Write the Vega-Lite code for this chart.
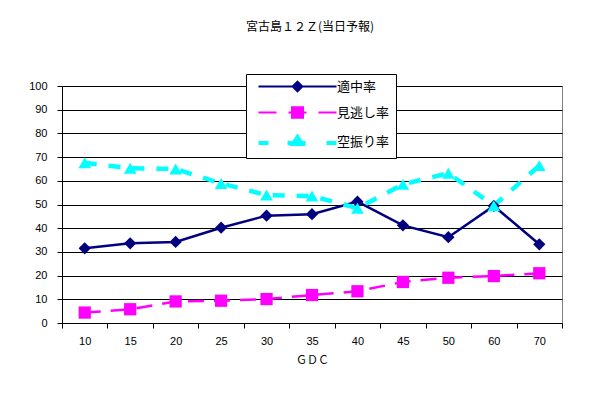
{
  "$schema": "https://vega.github.io/schema/vega-lite/v6.json",
  "autosize": "none",
  "width": 500,
  "height": 237,
  "padding": {"left": 62, "top": 86, "right": 33, "bottom": 73},
  "background": "white",
  "title": {
    "text": "宮古島１２Ｚ(当日予報)",
    "font": "Noto Sans CJK JP",
    "fontSize": 12,
    "fontWeight": "normal",
    "color": "black",
    "anchor": "middle",
    "frame": "group",
    "dx": -2,
    "offset": 40
  },
  "config": {
    "view": {"stroke": "#808080", "strokeWidth": 1},
    "axis": {
      "labelFont": "Liberation Sans",
      "labelFontSize": 11,
      "labelColor": "black",
      "titleFont": "Noto Sans CJK JP",
      "titleFontSize": 11,
      "titleFontWeight": "normal",
      "titleColor": "black",
      "domainColor": "black",
      "tickColor": "black",
      "gridColor": "black",
      "gridOpacity": 1
    }
  },
  "data": {
    "values": [
      {"gdc": "10", "series": "適中率", "value": 31.5},
      {"gdc": "15", "series": "適中率", "value": 33.6},
      {"gdc": "20", "series": "適中率", "value": 34.2},
      {"gdc": "25", "series": "適中率", "value": 40.2},
      {"gdc": "30", "series": "適中率", "value": 45.3},
      {"gdc": "35", "series": "適中率", "value": 45.9},
      {"gdc": "40", "series": "適中率", "value": 51.2},
      {"gdc": "45", "series": "適中率", "value": 41.2},
      {"gdc": "50", "series": "適中率", "value": 36.2},
      {"gdc": "60", "series": "適中率", "value": 49.4},
      {"gdc": "70", "series": "適中率", "value": 33.2},
      {"gdc": "10", "series": "見逃し率", "value": 4.4},
      {"gdc": "15", "series": "見逃し率", "value": 5.8},
      {"gdc": "20", "series": "見逃し率", "value": 9.1},
      {"gdc": "25", "series": "見逃し率", "value": 9.4},
      {"gdc": "30", "series": "見逃し率", "value": 10.1},
      {"gdc": "35", "series": "見逃し率", "value": 11.8},
      {"gdc": "40", "series": "見逃し率", "value": 13.4},
      {"gdc": "45", "series": "見逃し率", "value": 17.3},
      {"gdc": "50", "series": "見逃し率", "value": 19.1},
      {"gdc": "60", "series": "見逃し率", "value": 19.8},
      {"gdc": "70", "series": "見逃し率", "value": 21.0},
      {"gdc": "10", "series": "空振り率", "value": 67.6},
      {"gdc": "15", "series": "空振り率", "value": 65.3},
      {"gdc": "20", "series": "空振り率", "value": 65.0},
      {"gdc": "25", "series": "空振り率", "value": 58.9},
      {"gdc": "30", "series": "空振り率", "value": 54.0},
      {"gdc": "35", "series": "空振り率", "value": 53.6},
      {"gdc": "40", "series": "空振り率", "value": 48.4},
      {"gdc": "45", "series": "空振り率", "value": 58.5},
      {"gdc": "50", "series": "空振り率", "value": 63.2},
      {"gdc": "60", "series": "空振り率", "value": 49.5},
      {"gdc": "70", "series": "空振り率", "value": 66.4}
    ]
  },
  "encoding": {
    "x": {
      "field": "gdc",
      "type": "ordinal",
      "sort": ["10", "15", "20", "25", "30", "35", "40", "45", "50", "60", "70"],
      "scale": {"type": "band", "paddingInner": 0, "paddingOuter": 0},
      "axis": {
        "title": "ＧＤＣ",
        "labelAngle": 0,
        "tickBand": "extent",
        "tickSize": 5,
        "labelPadding": 7,
        "titlePadding": 8,
        "grid": false
      }
    },
    "y": {
      "field": "value",
      "type": "quantitative",
      "scale": {"domain": [0, 100], "nice": false},
      "axis": {
        "title": null,
        "values": [0, 10, 20, 30, 40, 50, 60, 70, 80, 90, 100],
        "tickSize": 5,
        "labelPadding": 10,
        "grid": true
      }
    },
    "color": {
      "field": "series",
      "type": "nominal",
      "scale": {
        "domain": ["適中率", "見逃し率", "空振り率"],
        "range": ["#000080", "#FF00FF", "#00FFFF"]
      },
      "legend": {
        "title": null,
        "orient": "none",
        "legendX": 184,
        "legendY": -12,
        "fillColor": "white",
        "strokeColor": "black",
        "padding": 6,
        "rowPadding": 7,
        "labelOffset": 72,
        "labelFont": "Noto Sans CJK JP",
        "labelFontSize": 13,
        "labelColor": "black",
        "symbolSize": 256,
        "encode": {
          "symbols": {
            "update": {
              "shape": {"signal": "datum.value === '適中率' ? 'M0,0H9.75M4.275,0L4.875,-0.6L5.475,0L4.875,0.6Z' : datum.value === '見逃し率' ? 'M0,0H2.25M3.75,0H6M7.5,0H9.75M4.185,-0.65H5.565V0.65H4.185Z' : 'M0,0.2H1.25M3.625,0.2H5.875M8.5,0.2H9.75M4.875,-0.55L5.45,0.3H4.3Z'"},
              "size": {"value": 256},
              "fill": {"scale": "color", "field": "value"},
              "stroke": {"scale": "color", "field": "value"},
              "strokeWidth": {"signal": "datum.value === '空振り率' ? 4 : 2"},
              "opacity": {"value": 1},
              "fillOpacity": {"value": 1},
              "strokeOpacity": {"value": 1}
            }
          }
        }
      }
    }
  },
  "layer": [
    {
      "transform": [{"filter": "datum.series === '適中率'"}],
      "mark": {"type": "line", "strokeWidth": 2.5}
    },
    {
      "transform": [{"filter": "datum.series === '見逃し率'"}],
      "mark": {"type": "line", "strokeWidth": 2.5, "strokeDash": [16, 10]}
    },
    {
      "transform": [{"filter": "datum.series === '空振り率'"}],
      "mark": {"type": "line", "strokeWidth": 4.5, "strokeDash": [12, 12]}
    },
    {
      "transform": [{"filter": "datum.series === '適中率'"}],
      "mark": {"type": "point", "filled": true, "size": 150, "opacity": 1, "shape": "diamond"}
    },
    {
      "transform": [{"filter": "datum.series === '見逃し率'"}],
      "mark": {"type": "point", "filled": true, "size": 150, "opacity": 1, "shape": "square"}
    },
    {
      "transform": [{"filter": "datum.series === '空振り率'"}],
      "mark": {"type": "point", "filled": true, "size": 160, "opacity": 1, "shape": "triangle-up"}
    }
  ]
}
